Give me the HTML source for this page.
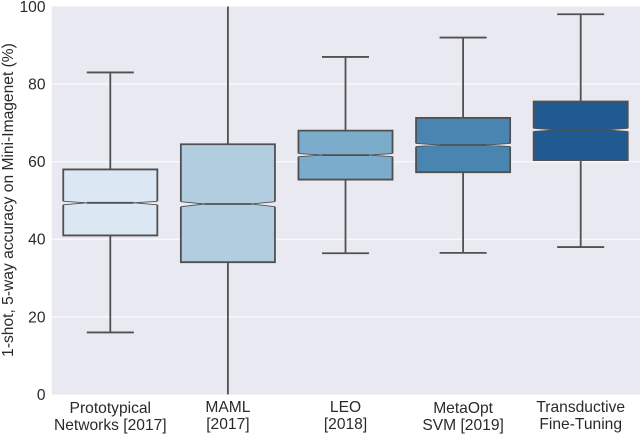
<!DOCTYPE html>
<html lang="en">
<head>
<meta charset="utf-8">
<title>1-shot, 5-way accuracy box plot</title>
<style>
html,body{margin:0;padding:0;background:#fff;width:640px;height:434px;overflow:hidden}
svg{display:block;filter:blur(0.3px)}
text{font-family:"Liberation Sans",sans-serif;fill:#2a2a2a;font-size:15.6px}
</style>
</head>
<body>
<svg id="chart" xmlns="http://www.w3.org/2000/svg" width="640" height="434" viewBox="0 0 640 434">
<defs><clipPath id="plot-clip"><rect x="51.5" y="6.5" width="588.5" height="388"/></clipPath></defs>
<rect x="51.7" y="6.5" width="588.3" height="388" fill="#e9e9f2"/>
<g id="grid"></g>
<g id="marks" clip-path="url(#plot-clip)"></g>
<g id="yticks"></g>
<g id="xticks"></g>
<text transform="translate(13,200) rotate(-90)" text-anchor="middle">1-shot, 5-way accuracy on Mini-Imagenet (%)</text>
</svg>
<script>
const categoriesLine1 = ['Prototypical', 'MAML', 'LEO', 'MetaOpt', 'Transductive'];
const categoriesLine2 = ['Networks [2017]', '[2017]', '[2018]', 'SVM [2019]', 'Fine-Tuning'];
const q1Values = [41.0, 34.1, 55.4, 57.3, 60.4];
const medianValues = [49.4, 49.1, 61.7, 64.3, 68.2];
const q3Values = [58.0, 64.5, 68.0, 71.3, 75.5];
const notchLowValues = [48.9, 48.4, 61.3, 63.9, 67.8];
const notchHighValues = [49.8, 49.7, 62.1, 64.7, 68.6];
const whiskerLowValues = [16.0, -5, 36.4, 36.5, 38.0];
const whiskerHighValues = [83.0, 105, 87.0, 92.0, 98.0];
const yTickValues = [0, 20, 40, 60, 80, 100];
const boxColors = ['#dbe8f4', '#b2cde0', '#7caccb', '#4a85b2', '#205a90'];

const NS = 'http://www.w3.org/2000/svg';
const plotLeft = 51.5, plotRight = 639.5, plotTop = 6.5, plotBottom = 394.5;
const stroke = '#505050';
const yScale = v => plotBottom - (v - 0) / 100 * (plotBottom - plotTop);
const band = (plotRight - plotLeft) / categoriesLine1.length;
const xScale = i => plotLeft + band * (i + 0.5);
const boxWidth = band * 0.8;
const capWidth = boxWidth * 0.5;
const labelBaseShift = [0, -1, -1, 0, -1];

function make(tag, attrs, parent) {
  const el = document.createElementNS(NS, tag);
  for (const k in attrs) el.setAttribute(k, attrs[k]);
  parent.appendChild(el);
  return el;
}

const grid = document.getElementById('grid');
const yticks = document.getElementById('yticks');
const xticks = document.getElementById('xticks');
const marks = document.getElementById('marks');

yTickValues.forEach(v => {
  const y = yScale(v);
  if (v > 0 && v < 100) {
    const line = make('line', {x1: plotLeft, x2: 640, y1: y, y2: y, stroke: '#ffffff', 'stroke-width': 1}, grid);
    
    
  }
  const label = make('text', {x: 45.5, y: y + 5.4, 'text-anchor': 'end'}, yticks);
  
  
  label.textContent = v;
});

categoriesLine1.forEach((name, i) => {
  const cx = xScale(i);
  const left = cx - boxWidth / 2, right = cx + boxWidth / 2;
  const inL = cx - boxWidth / 4, inR = cx + boxWidth / 4;

  const g = make('g', {}, marks);
  
  

  const whiskerUp = make('line', {x1: cx, x2: cx, y1: yScale(q3Values[i]), y2: yScale(whiskerHighValues[i]), stroke: stroke, 'stroke-width': 1.8}, g);
  
  

  const whiskerDown = make('line', {x1: cx, x2: cx, y1: yScale(q1Values[i]), y2: yScale(whiskerLowValues[i]), stroke: stroke, 'stroke-width': 1.8}, g);
  
  

  const capUp = make('line', {x1: cx - capWidth / 2, x2: cx + capWidth / 2, y1: yScale(whiskerHighValues[i]), y2: yScale(whiskerHighValues[i]), stroke: stroke, 'stroke-width': 1.8}, g);
  
  

  const capDown = make('line', {x1: cx - capWidth / 2, x2: cx + capWidth / 2, y1: yScale(whiskerLowValues[i]), y2: yScale(whiskerLowValues[i]), stroke: stroke, 'stroke-width': 1.8}, g);
  
  

  const q1 = yScale(q1Values[i]), q3 = yScale(q3Values[i]), m = yScale(medianValues[i]);
  const nLo = yScale(notchLowValues[i]), nHi = yScale(notchHighValues[i]);

  const fillD = `M${left} ${q1}L${right} ${q1}L${right} ${nLo}L${inR} ${m}L${right} ${nHi}L${right} ${q3}L${left} ${q3}L${left} ${nHi}L${inL} ${m}L${left} ${nLo}Z`;
  const box = make('path', {d: fillD, fill: boxColors[i], stroke: 'none'}, g);
  
  

  const outlineD = `M${left} ${nLo}L${left} ${q1}L${right} ${q1}L${right} ${nLo}M${right} ${nHi}L${right} ${q3}L${left} ${q3}L${left} ${nHi}`;
  const outline = make('path', {d: outlineD, fill: 'none', stroke: stroke, 'stroke-width': 1.8, 'stroke-linejoin': 'miter'}, g);
  
  

  const notchD = `M${left} ${nLo}L${inL} ${m}L${left} ${nHi}M${right} ${nLo}L${inR} ${m}L${right} ${nHi}`;
  const notch = make('path', {d: notchD, fill: 'none', stroke: stroke, 'stroke-width': 0.9}, g);
  
  

  const median = make('line', {x1: inL, x2: inR, y1: m, y2: m, stroke: stroke, 'stroke-width': 1.8}, g);
  
  

  const line1 = make('text', {x: cx, y: 413 + labelBaseShift[i], 'text-anchor': 'middle'}, xticks);
  
  
  line1.textContent = name;

  const line2 = make('text', {x: cx, y: 430 + labelBaseShift[i], 'text-anchor': 'middle'}, xticks);
  
  
  line2.textContent = categoriesLine2[i];
});
</script>
</body>
</html>
